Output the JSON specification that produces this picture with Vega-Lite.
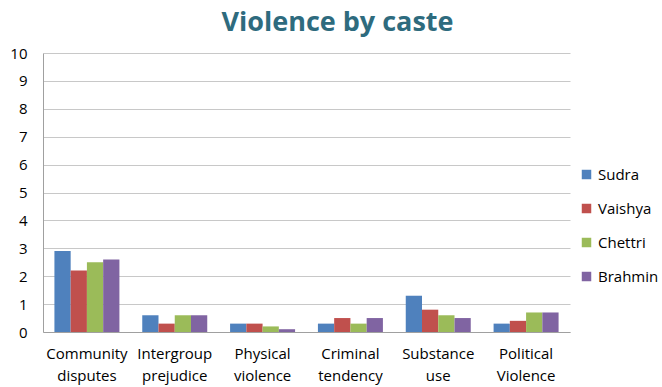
{
  "$schema": "https://vega.github.io/schema/vega-lite/v6.json",
  "width": 527,
  "height": 279,
  "autosize": {"type": "none"},
  "padding": {"left": 43, "top": 53, "right": 92, "bottom": 55},
  "background": "white",
  "title": {
    "text": "Violence by caste",
    "fontSize": 27,
    "font": "Open Sans",
    "fontWeight": "bold",
    "color": "#2E6B7E",
    "anchor": "middle",
    "dx": 31,
    "offset": 9
  },
  "data": {
    "values": [
      {"cat": "Community disputes", "caste": "Sudra", "v": 2.9},
      {"cat": "Community disputes", "caste": "Vaishya", "v": 2.2},
      {"cat": "Community disputes", "caste": "Chettri", "v": 2.5},
      {"cat": "Community disputes", "caste": "Brahmin", "v": 2.6},
      {"cat": "Intergroup prejudice", "caste": "Sudra", "v": 0.6},
      {"cat": "Intergroup prejudice", "caste": "Vaishya", "v": 0.3},
      {"cat": "Intergroup prejudice", "caste": "Chettri", "v": 0.6},
      {"cat": "Intergroup prejudice", "caste": "Brahmin", "v": 0.6},
      {"cat": "Physical violence", "caste": "Sudra", "v": 0.3},
      {"cat": "Physical violence", "caste": "Vaishya", "v": 0.3},
      {"cat": "Physical violence", "caste": "Chettri", "v": 0.2},
      {"cat": "Physical violence", "caste": "Brahmin", "v": 0.1},
      {"cat": "Criminal tendency", "caste": "Sudra", "v": 0.3},
      {"cat": "Criminal tendency", "caste": "Vaishya", "v": 0.5},
      {"cat": "Criminal tendency", "caste": "Chettri", "v": 0.3},
      {"cat": "Criminal tendency", "caste": "Brahmin", "v": 0.5},
      {"cat": "Substance use", "caste": "Sudra", "v": 1.3},
      {"cat": "Substance use", "caste": "Vaishya", "v": 0.8},
      {"cat": "Substance use", "caste": "Chettri", "v": 0.6},
      {"cat": "Substance use", "caste": "Brahmin", "v": 0.5},
      {"cat": "Political Violence", "caste": "Sudra", "v": 0.3},
      {"cat": "Political Violence", "caste": "Vaishya", "v": 0.4},
      {"cat": "Political Violence", "caste": "Chettri", "v": 0.7},
      {"cat": "Political Violence", "caste": "Brahmin", "v": 0.7}
    ]
  },
  "mark": {"type": "bar"},
  "encoding": {
    "x": {
      "field": "cat",
      "type": "nominal",
      "sort": null,
      "scale": {"paddingInner": 0.26, "paddingOuter": 0.13},
      "axis": {
        "title": null,
        "labelAngle": 0,
        "labelExpr": "split(datum.label, ' ')",
        "labelFont": "Open Sans",
        "labelFontSize": 15,
        "labelColor": "#000000",
        "labelPadding": 14,
        "labelLineHeight": 22,
        "ticks": false,
        "domainColor": "#a0a0a0"
      }
    },
    "xOffset": {"field": "caste", "type": "nominal", "sort": ["Sudra", "Vaishya", "Chettri", "Brahmin"]},
    "y": {
      "field": "v",
      "type": "quantitative",
      "scale": {"domain": [0, 10]},
      "axis": {
        "title": null,
        "values": [0,1,2,3,4,5,6,7,8,9,10],
        "labelFont": "Open Sans",
        "labelFontSize": 15,
        "labelColor": "#000000",
        "labelPadding": 16,
        "ticks": false,
        "domainColor": "#a0a0a0",
        "gridColor": "#c8c8c8"
      }
    },
    "color": {
      "field": "caste",
      "type": "nominal",
      "sort": ["Sudra", "Vaishya", "Chettri", "Brahmin"],
      "scale": {"domain": ["Sudra", "Vaishya", "Chettri", "Brahmin"], "range": ["#4F81BD", "#C0504D", "#9BBB59", "#8064A2"]},
      "legend": {
        "title": null,
        "orient": "none",
        "legendX": 536,
        "legendY": 114,
        "symbolType": "square",
        "symbolSize": 90,
        "symbolStrokeWidth": 0,
        "labelOffset": 4,
        "labelFont": "Open Sans",
        "labelFontSize": 15,
        "labelColor": "#000000",
        "rowPadding": 18
      }
    }
  },
  "config": {"view": {"stroke": null}}
}
